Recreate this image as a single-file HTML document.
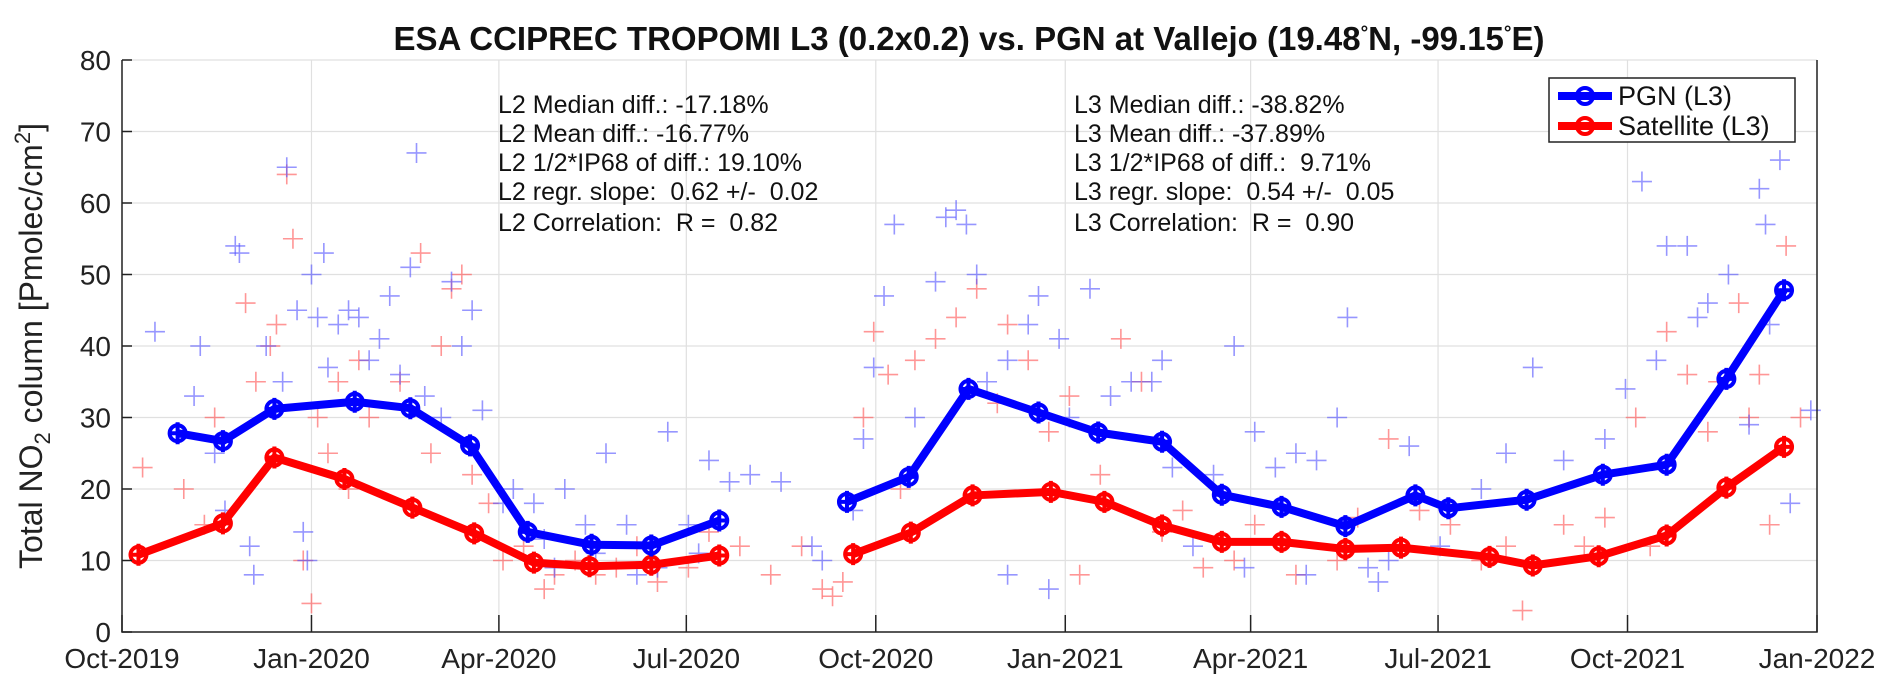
<!DOCTYPE html>
<html><head><meta charset="utf-8"><style>
html,body{margin:0;padding:0;background:#fff;width:1892px;height:692px;overflow:hidden}
svg{font-family:"Liberation Sans",sans-serif}
text{white-space:pre}
</style></head><body>
<svg id="chart" width="1892" height="692" xmlns="http://www.w3.org/2000/svg" xml:space="preserve">
<rect width="1892" height="692" fill="#fff"/>
<g id="grid"></g>
<g id="scatter"></g>
<g id="lines"></g>
<g id="axes"></g>
<text x="969" y="50" text-anchor="middle" font-size="33" font-weight="bold" fill="#111">ESA CCIPREC TROPOMI L3 (0.2x0.2) vs. PGN at Vallejo (19.48<tspan dy="-11" font-size="19">°</tspan><tspan dy="11">N, -99.15</tspan><tspan dy="-11" font-size="19">°</tspan><tspan dy="11">E)</tspan></text>
<text transform="translate(42,346) rotate(-90)" text-anchor="middle" font-size="32" fill="#222">Total NO<tspan dy="8" font-size="22">2</tspan><tspan dy="-8"> column [Pmolec/cm</tspan><tspan dy="-12" font-size="22">2</tspan><tspan dy="12">]</tspan></text>
<g font-size="25" fill="#111">
<text x="498" y="113">L2 Median diff.: -17.18%</text>
<text x="498" y="142">L2 Mean diff.: -16.77%</text>
<text x="498" y="171">L2 1/2*IP68 of diff.: 19.10%</text>
<text x="498" y="200">L2 regr. slope:  0.62 +/-  0.02</text>
<text x="498" y="231">L2 Correlation:  R =  0.82</text>
</g>
<g font-size="25" fill="#111">
<text x="1074" y="113">L3 Median diff.: -38.82%</text>
<text x="1074" y="142">L3 Mean diff.: -37.89%</text>
<text x="1074" y="171">L3 1/2*IP68 of diff.:  9.71%</text>
<text x="1074" y="200">L3 regr. slope:  0.54 +/-  0.05</text>
<text x="1074" y="231">L3 Correlation:  R =  0.90</text>
</g>
<g>
<rect x="1549" y="78" width="246" height="64" fill="#fff" stroke="#222" stroke-width="1.5"/>
<g>
<line x1="1558" y1="96" x2="1612" y2="96" stroke="#0000ff" stroke-width="8"/>
<circle cx="1585" cy="96" r="8" fill="none" stroke="#0000ff" stroke-width="4"/>
<text x="1618" y="105" font-size="27" fill="#111">PGN (L3)</text></g>
<g>
<line x1="1558" y1="126" x2="1612" y2="126" stroke="#ff0000" stroke-width="8"/>
<circle cx="1585" cy="126" r="8" fill="none" stroke="#ff0000" stroke-width="4"/>
<text x="1618" y="135" font-size="27" fill="#111">Satellite (L3)</text></g>
</g>
</svg>
<script>
const yTicks=[0,10,20,30,40,50,60,70,80];
const xTickDays=[0,92,183,274,366,458,548,639,731,823];
const xTickLabels=["Oct-2019","Jan-2020","Apr-2020","Jul-2020","Oct-2020","Jan-2021","Apr-2021","Jul-2021","Oct-2021","Jan-2022"];
const pgnDays=[27,49,74,113,140,169,197,228,257,290,null,352,382,411,445,474,505,534,563,594,628,644,682,719,750,779,807];
const pgnVals=[27.8,26.7,31.2,32.2,31.3,26.1,14,12.2,12.1,15.6,null,18.2,21.7,34,30.7,27.9,26.6,19.2,17.5,14.8,19.1,17.3,18.5,22,23.4,35.4,47.8];
const satDays=[8,49,74,108,141,171,200,227,257,290,null,355,383,413,451,477,505,534,563,594,621,664,685,717,750,779,807];
const satVals=[10.8,15.2,24.4,21.4,17.4,13.8,9.7,9.2,9.4,10.7,null,10.9,13.9,19.1,19.6,18.2,14.9,12.6,12.6,11.6,11.8,10.5,9.3,10.6,13.5,20.2,25.9];
const bluePts=[[16,42],[35,33],[38,40],[45,25],[50,17],[55,54],[57,53],[62,12],[64,8],[70,40],[78,35],[80,65],[85,45],[88,14],[90,10],[92,50],[95,44],[98,53],[100,37],[105,43],[110,45],[115,44],[120,38],[125,41],[130,47],[135,36],[140,51],[143,67],[147,33],[155,30],[160,49],[165,40],[170,45],[175,31],[185,18],[190,20],[200,18],[205,13],[215,20],[225,15],[235,25],[245,15],[250,8],[265,28],[275,15],[285,24],[295,21],[305,22],[320,21],[335,12],[340,10],[355,17],[360,27],[365,37],[370,47],[375,57],[385,30],[395,49],[400,58],[405,59],[410,57],[415,50],[420,35],[430,38],[440,43],[445,47],[455,41],[460,30],[470,48],[480,33],[490,35],[500,35],[505,38],[510,23],[530,22],[540,40],[550,28],[560,23],[570,25],[580,24],[590,30],[595,44],[605,9],[615,10],[625,26],[640,12],[660,20],[672,25],[685,37],[700,24],[720,27],[730,34],[738,63],[745,38],[750,54],[760,54],[765,44],[770,46],[780,50],[790,29],[795,62],[798,57],[800,43],[805,66],[810,18],[820,31],[210,9],[230,11],[260,9],[280,11],[430,8],[450,6],[520,12],[545,9],[575,8],[610,7]];
const redPts=[[10,23],[30,20],[40,15],[45,30],[60,46],[65,35],[72,40],[75,43],[80,64],[83,55],[88,10],[92,4],[95,30],[100,25],[105,35],[110,20],[115,38],[120,30],[135,35],[145,53],[150,25],[155,40],[160,48],[165,50],[170,22],[178,18],[185,10],[195,12],[205,6],[210,8],[220,10],[230,8],[240,9],[250,12],[260,7],[275,9],[285,14],[300,12],[315,8],[330,12],[340,6],[345,5],[350,7],[360,30],[365,42],[372,36],[378,20],[385,38],[395,41],[405,44],[415,48],[425,32],[430,43],[440,38],[450,28],[460,33],[465,8],[475,22],[485,41],[495,35],[505,14],[515,17],[525,9],[540,10],[550,15],[570,8],[590,10],[600,16],[615,27],[630,17],[645,15],[660,10],[672,12],[680,3],[700,15],[710,12],[720,16],[735,30],[742,12],[750,42],[760,36],[770,28],[775,35],[785,46],[790,30],[795,36],[800,15],[808,54],[815,30]];

const L=122,R=1817,T=60,B=632,NS="http://www.w3.org/2000/svg";
const xS=d=>L+(R-L)*d/823, yS=v=>B-(B-T)*v/80;
function mk(tag,attrs,parent){const e=document.createElementNS(NS,tag);for(const k in attrs)e.setAttribute(k,attrs[k]);parent.appendChild(e);return e;}
const grid=document.getElementById('grid'),axes=document.getElementById('axes'),sc=document.getElementById('scatter'),ln=document.getElementById('lines');
yTicks.forEach(v=>{
 const g=mk('line',{x1:L,x2:R,y1:yS(v),y2:yS(v),stroke:'#e0e0e0','stroke-width':1.2},grid);
 
 
 const t=mk('text',{x:L-11,y:yS(v)+10,'text-anchor':'end','font-size':28,fill:'#222'},axes);t.textContent=v;
 
 
 mk('line',{x1:L,x2:L+10,y1:yS(v),y2:yS(v),stroke:'#222','stroke-width':1.5},axes);
});
xTickDays.forEach((d,i)=>{
 const g=mk('line',{x1:xS(d),x2:xS(d),y1:T,y2:B,stroke:'#e0e0e0','stroke-width':1.2},grid);
 
 
 mk('line',{x1:xS(d),x2:xS(d),y1:B,y2:B-17,stroke:'#222','stroke-width':1.5},axes);
 const t=mk('text',{x:xS(d),y:B+36,'text-anchor':'middle','font-size':28,fill:'#222'},axes);t.textContent=xTickLabels[i];
 
 
});
const frame=mk('path',{d:`M${L},${T}V${B}H${R}V${T}`,fill:'none',stroke:'#222','stroke-width':1.5},axes);


function cross(p,col,name){const x=xS(p[0]),y=yS(p[1]);
 const c=mk('path',{d:`M${x-10},${y}H${x+10}M${x},${y-10}V${y+10}`,stroke:col,'stroke-width':1.6,fill:'none'},sc);
 
 }
redPts.forEach(p=>cross(p,'rgba(255,80,80,0.6)','satellite-l2-point'));
bluePts.forEach(p=>cross(p,'rgba(80,80,255,0.6)','pgn-l2-point'));
function series(days,vals,col,name){
 let d='',pen=false;
 days.forEach((dd,i)=>{if(dd===null){pen=false;return;}d+=(pen?'L':'M')+xS(dd)+','+yS(vals[i]);pen=true;});
 const p=mk('path',{d:d,fill:'none',stroke:col,'stroke-width':8,'stroke-linejoin':'round'},ln);
 
 
 days.forEach((dd,i)=>{if(dd===null)return;const x=xS(dd),y=yS(vals[i]);
  const c=mk('circle',{cx:x,cy:y,r:8,fill:'none',stroke:col,'stroke-width':4},ln);
  
  
  mk('path',{d:`M${x-9},${y}H${x+9}M${x},${y-11}V${y+11}`,stroke:col,'stroke-width':4},ln);});
}
series(satDays,satVals,'#ff0000','satellite');
series(pgnDays,pgnVals,'#0000ff','pgn');
</script>
</body></html>
